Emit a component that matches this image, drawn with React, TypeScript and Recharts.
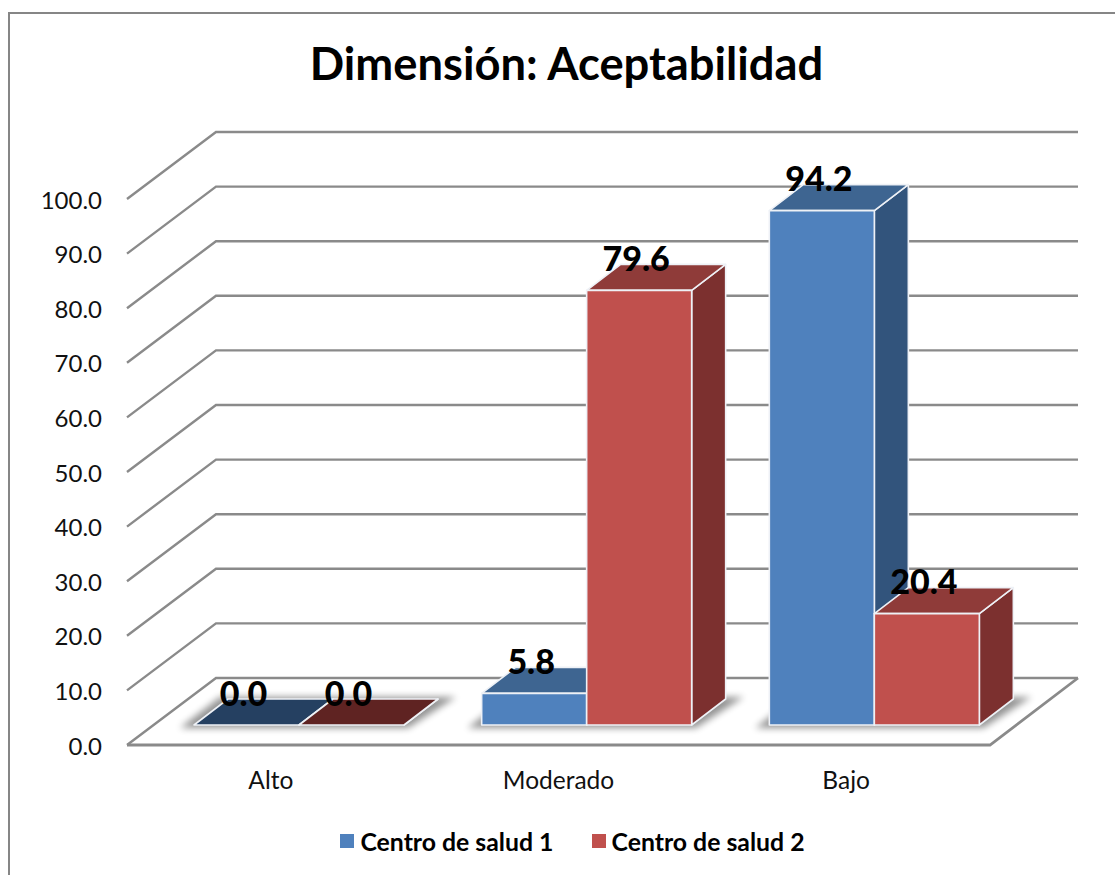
import React from 'react';
import { BarChart, Bar, XAxis, YAxis, CartesianGrid, Legend, LabelList } from 'recharts';

const categories = ['Alto', 'Moderado', 'Bajo'];
const centro1 = [0.0, 5.8, 94.2];
const centro2 = [0.0, 79.6, 20.4];
const yTicks = [0, 10, 20, 30, 40, 50, 60, 70, 80, 90, 100];

const data = categories.map((name, i) => ({ name, centro1: centro1[i], centro2: centro2[i] }));

const FONT = 'Lato, sans-serif';
const GRID = '#8a8a8a';
const EDGE = '#eef1f6';

// wall and floor depth of the fake 3D box
const WALL_X = 89;
const WALL_Y = 67;
// bars stand part way into the floor
const BAR_DX = 28;
const BAR_DY = 20;
const BAR_DEPTH_X = 34;
const BAR_DEPTH_Y = 26;

const blueShades = { top: '#3e6591', side: '#32547c', flat: '#254061' };
const redShades = { top: '#8f3b39', side: '#7c302f', flat: '#5f2322' };

function pts(list: number[][]) {
  return list.map((p) => p.join(',')).join(' ');
}

function GridLine(props: any) {
  const { x1, x2, y1, index, y, height } = props;
  const isFloor = y != null && height != null ? Math.abs(y1 - (y + height)) < 1 : index === 0;
  return (
    <g key={`wall-${index}`} fill="none" stroke={GRID} strokeWidth={2.4}>
      <polyline points={pts([[x1, y1], [x1 + WALL_X, y1 - WALL_Y], [x2 + WALL_X - 1, y1 - WALL_Y]])} />
      {isFloor && <polyline points={pts([[x1, y1], [x2, y1], [x2 + WALL_X - 1, y1 - WALL_Y]])} strokeWidth={2.8} />}
    </g>
  );
}

function makeBox(shades: { top: string; side: string; flat: string }, withShadow: boolean) {
  return function Box(props: any) {
    const { x, y, width, height, fill } = props;
    const left = x + BAR_DX;
    const right = left + width;
    const top = y - BAR_DY;
    const base = top + height;
    const dx = BAR_DEPTH_X;
    const dy = BAR_DEPTH_Y;
    const flat = height < 1;
    return (
      <g>
        {withShadow && (
          // soft floor shadow under the whole pair of bars
          <polygon
            points={pts([
              [left - 14, base + 3],
              [left + width * 2 + 4, base + 3],
              [left + width * 2 + dx + 18, base - dy - 2],
              [left + dx - 8, base - dy - 2],
            ])}
            fill="#000"
            opacity={0.42}
            style={{ filter: 'blur(3.5px)' }}
          />
        )}
        <g stroke={EDGE} strokeWidth={1.6} strokeLinejoin="round">
          <polygon
            points={pts([[right, top], [right + dx, top - dy], [right + dx, base - dy], [right, base]])}
            fill={shades.side}
          />
          <polygon
            points={pts([[left, top], [left + dx, top - dy], [right + dx, top - dy], [right, top]])}
            fill={flat ? shades.flat : shades.top}
          />
          {!flat && <rect x={left} y={top} width={width} height={height} fill={fill} />}
        </g>
      </g>
    );
  };
}

const BlueBox = makeBox(blueShades, true);
const RedBox = makeBox(redShades, false);

function ValueLabel(props: any) {
  const { x, y, width, value } = props;
  return (
    <text
      x={x + BAR_DX + width / 2 - 3}
      y={y - BAR_DY - 33}
      textAnchor="middle"
      dominantBaseline="central"
      fontFamily={FONT}
      fontWeight={900}
      fontSize={34}
      fill="#000"
    >
      {Number(value).toFixed(1)}
    </text>
  );
}

function KeyRow({ payload }: any) {
  return (
    <div style={{ display: 'flex', justifyContent: 'center', alignItems: 'center', gap: 38, height: 30 }}>
      {(payload || []).map((item: any) => (
        <div key={item.value} style={{ display: 'flex', alignItems: 'center', gap: 6 }}>
          <span style={{ width: 14, height: 14, background: item.color, display: 'inline-block' }} />
          <span style={{ fontFamily: FONT, fontWeight: 700, fontSize: 24.8, color: '#000' }}>{item.value}</span>
        </div>
      ))}
    </div>
  );
}

export default function App() {
  return (
    <div style={{ position: 'absolute', left: 0, top: 0, width: 1115, height: 875, overflow: 'hidden', background: '#fff' }}>
      <div
        style={{
          position: 'absolute',
          left: 8,
          top: 12,
          width: 1115,
          height: 875,
          borderLeft: '2px solid #868686',
          borderTop: '2px solid #868686',
        }}
      />
      <div
        style={{
          position: 'absolute',
          left: 0,
          top: 35,
          width: 1133,
          textAlign: 'center',
          fontFamily: FONT,
          fontWeight: 700,
          fontSize: 45.3,
          lineHeight: '56px',
          color: '#000',
        }}
      >
        Dimensión: Aceptabilidad
      </div>
      <BarChart
        width={1115}
        height={875}
        data={data}
        barCategoryGap={39}
        barGap={0}
        margin={{ top: 199, right: 125, bottom: 19, left: 27 }}
        style={{ position: 'absolute', left: 0, top: 0 }}
      >
        <CartesianGrid vertical={false} horizontal={GridLine as any} />
        <XAxis
          dataKey="name"
          height={81}
          axisLine={false}
          tickLine={false}
          tickMargin={21}
          tick={{ fontFamily: FONT, fontSize: 24.5, fill: '#111' }}
        />
        <YAxis
          width={100}
          domain={[0, 100]}
          ticks={yTicks}
          axisLine={false}
          tickLine={false}
          tickSize={0}
          tickMargin={25}
          tickFormatter={(v: number) => v.toFixed(1)}
          tick={{ fontFamily: FONT, fontSize: 24, fill: '#111', dy: 1 }}
        />
        <Legend verticalAlign="bottom" height={30} content={KeyRow as any} wrapperStyle={{ left: 0, width: 1145 }} />
        <Bar dataKey="centro1" name="Centro de salud 1" fill="#4f81bd" shape={BlueBox as any} isAnimationActive={false}>
          <LabelList dataKey="centro1" content={ValueLabel as any} />
        </Bar>
        <Bar dataKey="centro2" name="Centro de salud 2" fill="#c0504d" shape={RedBox as any} isAnimationActive={false}>
          <LabelList dataKey="centro2" content={ValueLabel as any} />
        </Bar>
      </BarChart>
    </div>
  );
}
